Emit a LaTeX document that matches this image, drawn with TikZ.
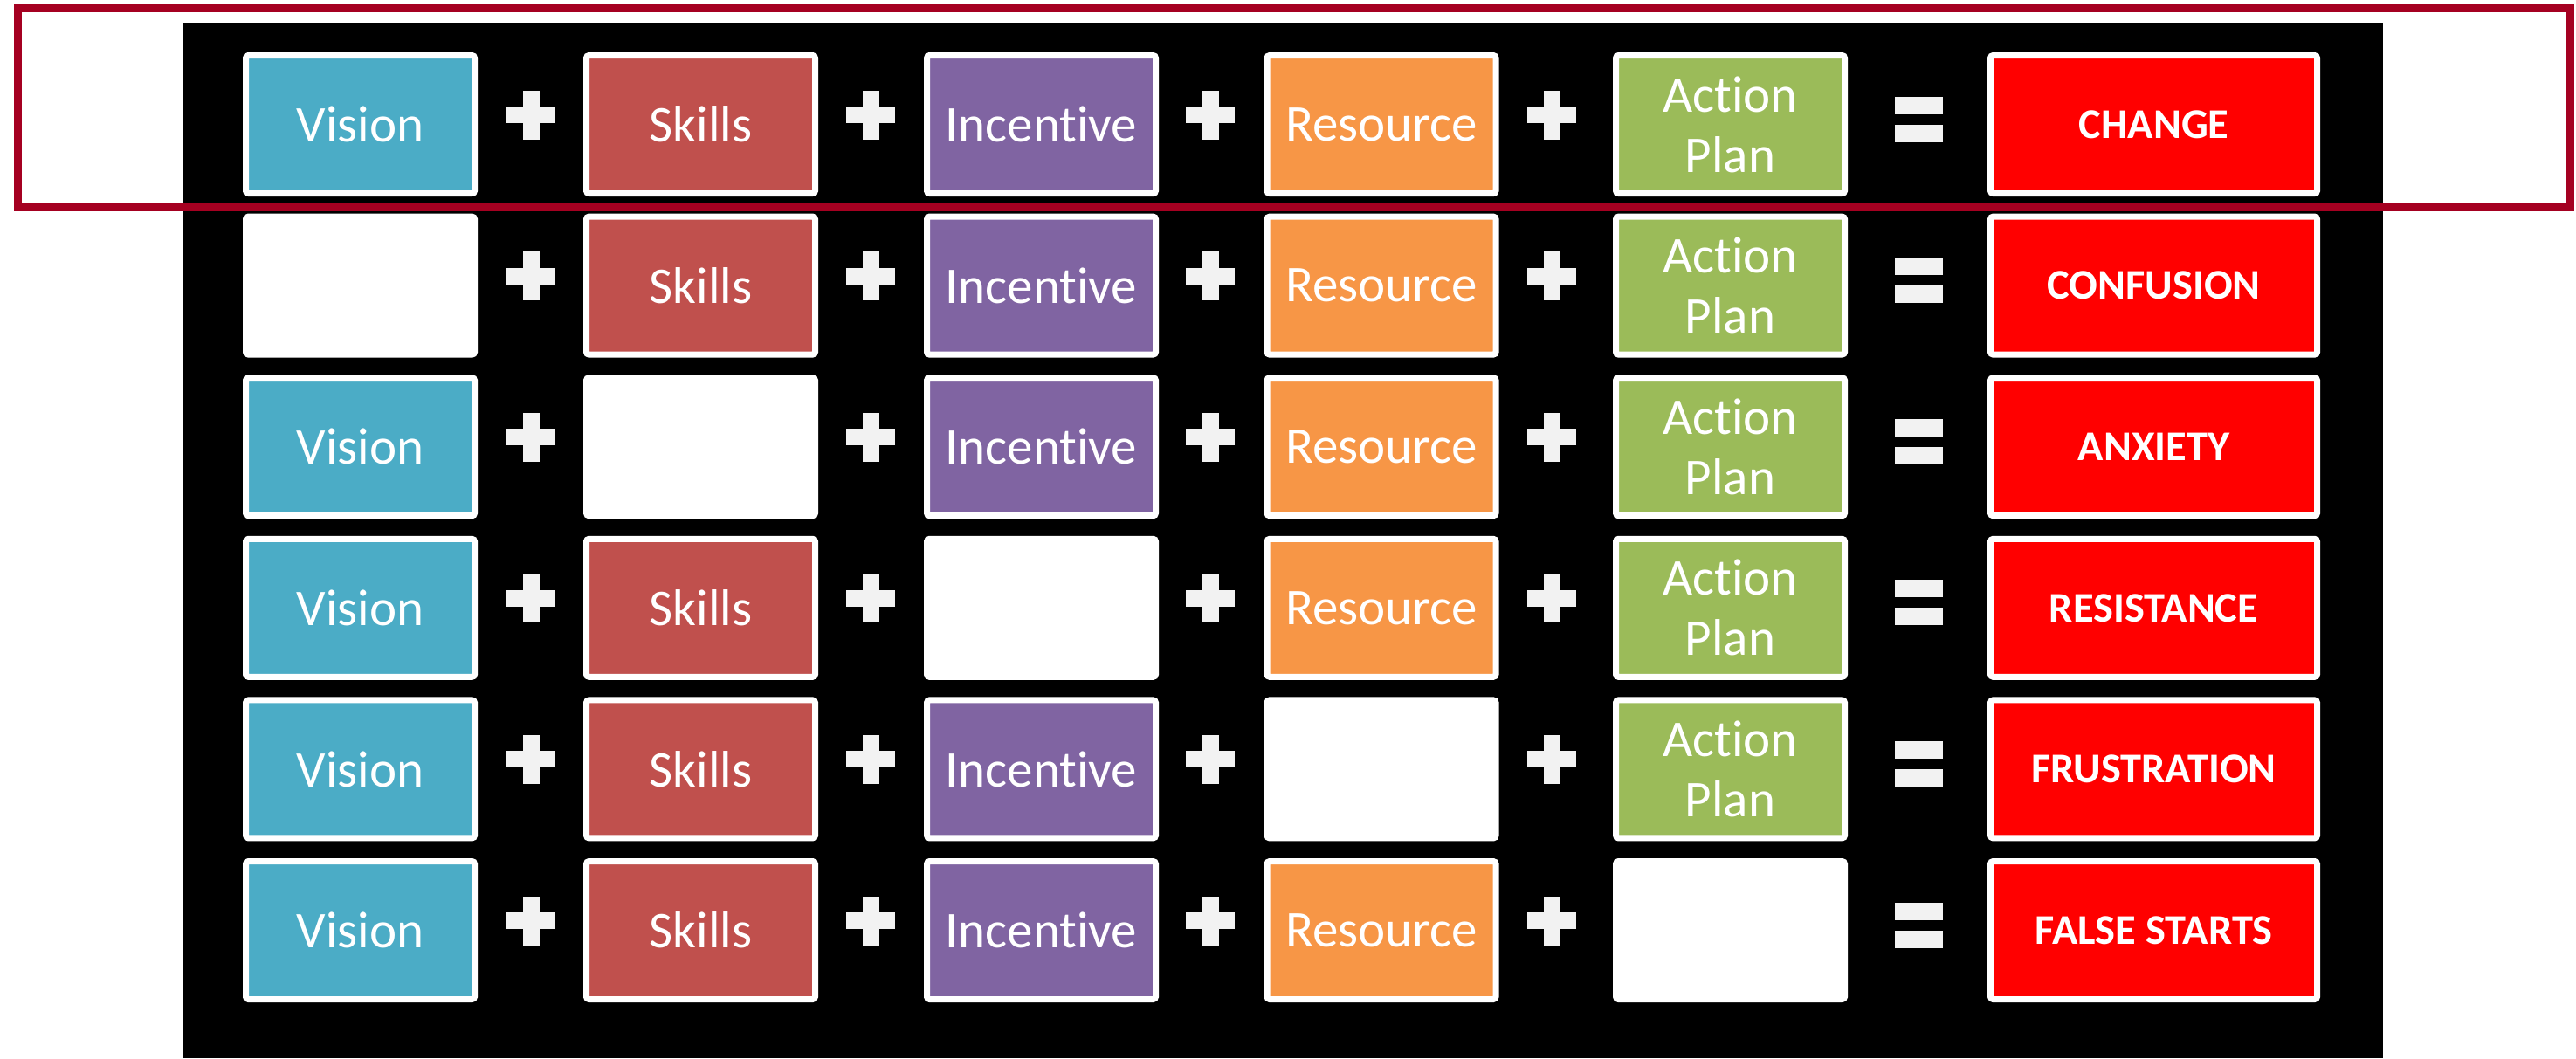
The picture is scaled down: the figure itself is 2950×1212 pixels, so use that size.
\documentclass[tikz,border=0pt]{standalone}
\usepackage{fontspec}
\setmainfont{Carlito}[Ligatures={NoCommon,NoContextual}]
\usetikzlibrary{calc}
\definecolor{cvision}{HTML}{4BACC6}
\definecolor{cskills}{HTML}{C0504D}
\definecolor{cinc}{HTML}{8064A2}
\definecolor{cresource}{HTML}{F79646}
\definecolor{cact}{HTML}{9BBB59}
\definecolor{cresult}{HTML}{FF0000}
\definecolor{csign}{HTML}{F2F2F2}
\definecolor{coutline}{HTML}{A50021}
\begin{document}
\begin{tikzpicture}[x=0.25pt,y=-0.25pt,
  box/.style={draw=white,line width=1.75pt,rounded corners=0.75pt,
    minimum width=65.5pt,minimum height=39.5pt,inner sep=0pt,text=white,
    font=\fontsize{14.75pt}{17.25pt}\selectfont,align=center},
  resbox/.style={box,fill=cresult,minimum width=93.5pt,
    font=\bfseries\fontsize{12.1pt}{14pt}\selectfont},
  signfill/.style={fill=csign},
  highlight/.style={draw=coutline,line width=2.25pt}]
\useasboundingbox (0,0) rectangle (2950,1212);
\fill[black] (210,26) rectangle (2729,1212);
\foreach \res [count=\r] in {CHANGE,CONFUSION,ANXIETY,RESISTANCE,FRUSTRATION,FALSE STARTS}{
  \pgfmathsetmacro\yy{142.5+184.6*(\r-1)}
  \foreach \c/\lab/\col/\xx in {1/Vision/cvision/412.5,2/Skills/cskills/802.5,3/{Incent\kern0pt ive}/cinc/1192.5,4/Resource/cresource/1582,5/{Action\\Plan}/cact/1981.5}{
    \ifnum\numexpr\r-1\relax=\c\relax
      \node[box,fill=white] (n\r-\c) at (\xx,\yy) {};
    \else
      \node[box,fill=\col] (n\r-\c) at (\xx,\yy) {\lab};
    \fi
  }
  \node[resbox] (n\r-6) at (2466.5,\yy) {\res};
  \foreach \px [count=\k] in {608,997,1386,1777}{
    \coordinate (p\r-\k) at (\px,\yy-11);
    \fill[signfill] ($(p\r-\k)+(-28,-9.5)$) rectangle ++(56,19);
    \fill[signfill] ($(p\r-\k)+(-9.5,-28)$) rectangle ++(19,56);
  }
  \coordinate (e\r) at (2197.5,\yy-6);
  \fill[signfill] ($(e\r)+(-27.5,-26)$) rectangle ++(55,20);
  \fill[signfill] ($(e\r)+(-27.5,6)$) rectangle ++(55,20);
}
\draw[highlight] (20.5,9.5) rectangle (2943.5,237.5);
\end{tikzpicture}
\end{document}
